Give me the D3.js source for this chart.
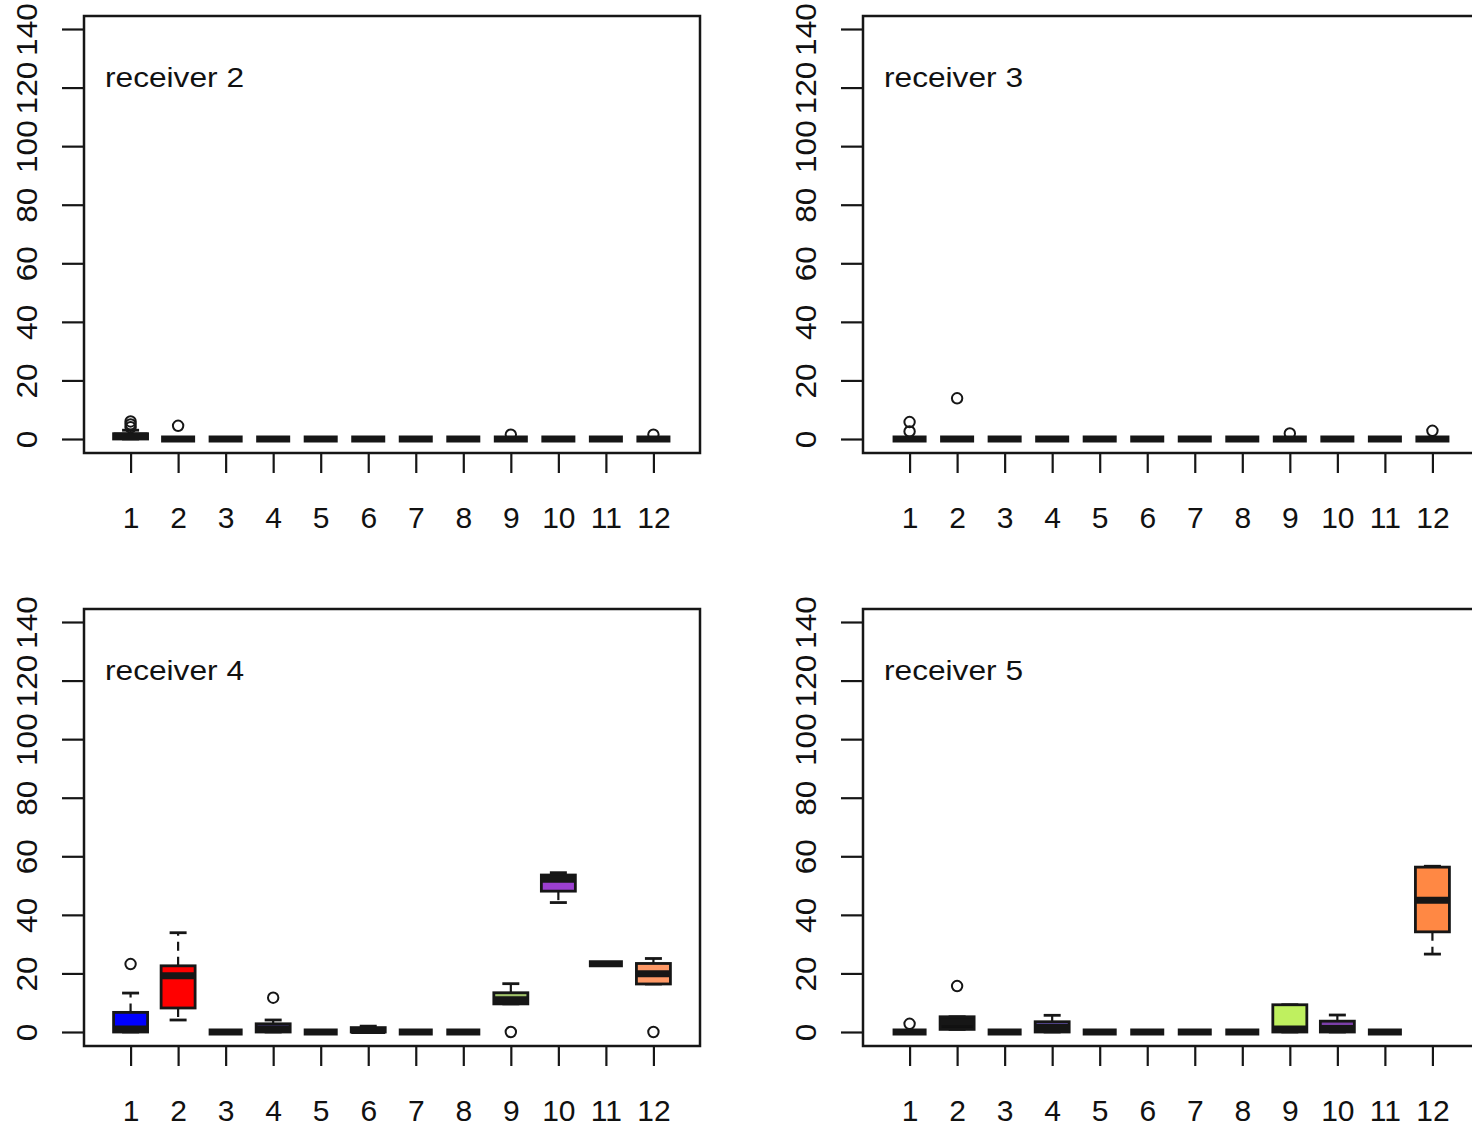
<!DOCTYPE html>
<html>
<head>
<meta charset="utf-8">
<script src="https://cdn.jsdelivr.net/npm/d3@7"></script>
<style>
body { margin: 0; background: #fff; }
svg { display: block; }
text { font-family: "Liberation Sans", Arial, sans-serif; fill: #111; }
</style>
</head>
<body>
<svg id="chart" width="1472" height="1129"></svg>
<script>
// categories and tick labels
var groups = [1, 2, 3, 4, 5, 6, 7, 8, 9, 10, 11, 12];
var yTicks = [0, 20, 40, 60, 80, 100, 120, 140];
var titles = ["receiver 2", "receiver 3", "receiver 4", "receiver 5"];

// five number summaries per group: [min, q1, median, q3, max]
var r2Stats = [[0, 0, 1, 1.8, 3], [0, 0, 0, 0, 0], [0, 0, 0, 0, 0], [0, 0, 0, 0, 0],
               [0, 0, 0, 0, 0], [0, 0, 0, 0, 0], [0, 0, 0, 0, 0], [0, 0, 0, 0, 0],
               [0, 0, 0, 0, 0], [0, 0, 0, 0, 0], [0, 0, 0, 0, 0], [0, 0, 0, 0, 0]];
var r2Out = [[4, 5, 6], [4.5], [], [], [], [], [], [], [1.5], [], [], [1.5]];

var r3Stats = [[0, 0, 0, 0, 0], [0, 0, 0, 0, 0], [0, 0, 0, 0, 0], [0, 0, 0, 0, 0],
               [0, 0, 0, 0, 0], [0, 0, 0, 0, 0], [0, 0, 0, 0, 0], [0, 0, 0, 0, 0],
               [0, 0, 0, 0, 0], [0, 0, 0, 0, 0], [0, 0, 0, 0, 0], [0, 0, 0, 0, 0]];
var r3Out = [[2.6, 5.8], [13.9], [], [], [], [], [], [], [1.9], [], [], [2.8]];

var r4Stats = [[0, 0, 1, 6.7, 13.3], [4.1, 8.2, 19.2, 22.6, 33.9], [0, 0, 0, 0, 0], [0, 0, 1, 2.8, 4.1],
               [0, 0, 0, 0, 0], [0, 0, 0.5, 1.5, 2], [0, 0, 0, 0, 0], [0, 0, 0, 0, 0],
               [9.6, 9.6, 11, 13.4, 16.5], [44.2, 48.1, 52.2, 53.6, 54.4], [23.3, 23.3, 23.3, 23.3, 23.3], [16.4, 16.4, 19.9, 23.4, 25.1]];
var r4Out = [[23.2], [], [], [11.7], [], [], [], [], [0], [], [], [0]];

var r5Stats = [[0, 0, 0, 0, 0], [0.9, 0.9, 3.5, 5.2, 5.2], [0, 0, 0, 0, 0], [0, 0, 1.5, 3.5, 5.7],
               [0, 0, 0, 0, 0], [0, 0, 0, 0, 0], [0, 0, 0, 0, 0], [0, 0, 0, 0, 0],
               [0, 0, 1, 9.3, 9.3], [0, 0, 1.2, 3.7, 5.8], [0, 0, 0, 0, 0], [26.6, 34.2, 45, 56.3, 56.6]];
var r5Out = [[2.8], [15.7], [], [], [], [], [], [], [], [], [], []];

// box fills
var r4Fill = ["#0000ff", "#ff0000", "#888888", "#4a3d8f", "#888888", "#555555",
              "#888888", "#888888", "#a2c46a", "#9b3fd0", "#888888", "#ff9966"];
var r5Fill = ["#0000ff", "#111111", "#888888", "#5a4a9a", "#888888", "#888888",
              "#888888", "#888888", "#bff05f", "#7b3fa8", "#888888", "#ff8844"];

var panels = [
    {title: titles[0], stats: r2Stats, out: r2Out, fill: r4Fill, dx: 0, dy: 0},
    {title: titles[1], stats: r3Stats, out: r3Out, fill: r4Fill, dx: 779, dy: 0},
    {title: titles[2], stats: r4Stats, out: r4Out, fill: r4Fill, dx: 0, dy: 593},
    {title: titles[3], stats: r5Stats, out: r5Out, fill: r5Fill, dx: 779, dy: 593}
];

var svg = d3.select("#chart");
var ink = "#161616";

// frame of one panel (before offset)
var frameL = 84, frameR = 700, frameT = 16, frameB = 453;
var boxW = 34, capW = 17;

var x = d3.scaleLinear().domain([0.02, 12.98]).range([frameL, frameR]);
var y = d3.scaleLinear().domain([-4.78, 144.44]).range([frameB, frameT]);

panels.forEach(function(p) {
    var g = svg.append("g")
        .attr("transform", "translate(" + p.dx + "," + p.dy + ")");

    g.append("rect")
        .attr("x", frameL).attr("y", frameT)
        .attr("width", frameR - frameL).attr("height", frameB - frameT)
        .attr("fill", "none").attr("stroke", ink).attr("stroke-width", 2.5);

    // y axis
    var ya = g.append("g")
        .attr("transform", "translate(" + frameL + ",0)")
        .call(d3.axisLeft(y).tickValues(yTicks).tickSize(22).tickFormat(d3.format("d")));
    ya.select(".domain").remove();
    ya.selectAll(".tick line").attr("stroke", ink).attr("stroke-width", 2.2);
    ya.selectAll(".tick text")
        .attr("x", null).attr("dy", null)
        .attr("transform", "translate(-47,0) rotate(-90) scale(1.02,0.95)")
        .attr("text-anchor", "middle")
        .style("font-size", "31px").style("font-family", null).style("fill", "#111");

    // x axis
    var xa = g.append("g")
        .attr("transform", "translate(0," + frameB + ")")
        .call(d3.axisBottom(x).tickValues(groups).tickSize(20).tickFormat(d3.format("d")));
    xa.select(".domain").remove();
    xa.selectAll(".tick line").attr("stroke", ink).attr("stroke-width", 2.2);
    xa.selectAll(".tick text")
        .attr("y", 75).attr("dy", null)
        .style("font-size", "30px").style("font-family", null).style("fill", "#111");

    g.append("text")
        .attr("x", 105).attr("y", 87)
        .attr("textLength", 139).attr("lengthAdjust", "spacingAndGlyphs")
        .style("font-size", "28px")
        .text(p.title);

    var boxes = g.selectAll("g.box")
        .data(groups.map(function(k, i) {
            return {k: k, s: p.stats[i], out: p.out[i], fill: p.fill[i]};
        }))
        .enter().append("g").attr("class", "box");

    // whiskers (dashed)
    boxes.append("line")
        .attr("x1", function(d) { return x(d.k); }).attr("x2", function(d) { return x(d.k); })
        .attr("y1", function(d) { return y(d.s[3]); }).attr("y2", function(d) { return y(d.s[4]); })
        .attr("stroke", ink).attr("stroke-width", 2.2).attr("stroke-dasharray", "9,6");
    boxes.append("line")
        .attr("x1", function(d) { return x(d.k); }).attr("x2", function(d) { return x(d.k); })
        .attr("y1", function(d) { return y(d.s[1]); }).attr("y2", function(d) { return y(d.s[0]); })
        .attr("stroke", ink).attr("stroke-width", 2.2).attr("stroke-dasharray", "9,6");

    // staples
    [0, 4].forEach(function(j) {
        boxes.append("line")
            .attr("x1", function(d) { return x(d.k) - capW / 2; })
            .attr("x2", function(d) { return x(d.k) + capW / 2; })
            .attr("y1", function(d) { return y(d.s[j]); })
            .attr("y2", function(d) { return y(d.s[j]); })
            .attr("stroke", ink).attr("stroke-width", 2.8);
    });

    // box
    boxes.append("rect")
        .attr("x", function(d) { return x(d.k) - boxW / 2; })
        .attr("y", function(d) { return y(d.s[3]); })
        .attr("width", boxW)
        .attr("height", function(d) { return y(d.s[1]) - y(d.s[3]); })
        .attr("fill", function(d) { return d.fill; })
        .attr("stroke", ink).attr("stroke-width", 2.8);

    // median
    boxes.append("line")
        .attr("x1", function(d) { return x(d.k) - boxW / 2; })
        .attr("x2", function(d) { return x(d.k) + boxW / 2; })
        .attr("y1", function(d) { return y(d.s[2]); })
        .attr("y2", function(d) { return y(d.s[2]); })
        .attr("stroke", ink).attr("stroke-width", 7);

    // outliers
    boxes.selectAll("circle")
        .data(function(d) { return d.out.map(function(v) { return {k: d.k, v: v}; }); })
        .enter().append("circle")
        .attr("cx", function(d) { return x(d.k); })
        .attr("cy", function(d) { return y(d.v); })
        .attr("r", 5.2)
        .attr("fill", "none").attr("stroke", ink).attr("stroke-width", 2);
});
</script>
</body>
</html>
